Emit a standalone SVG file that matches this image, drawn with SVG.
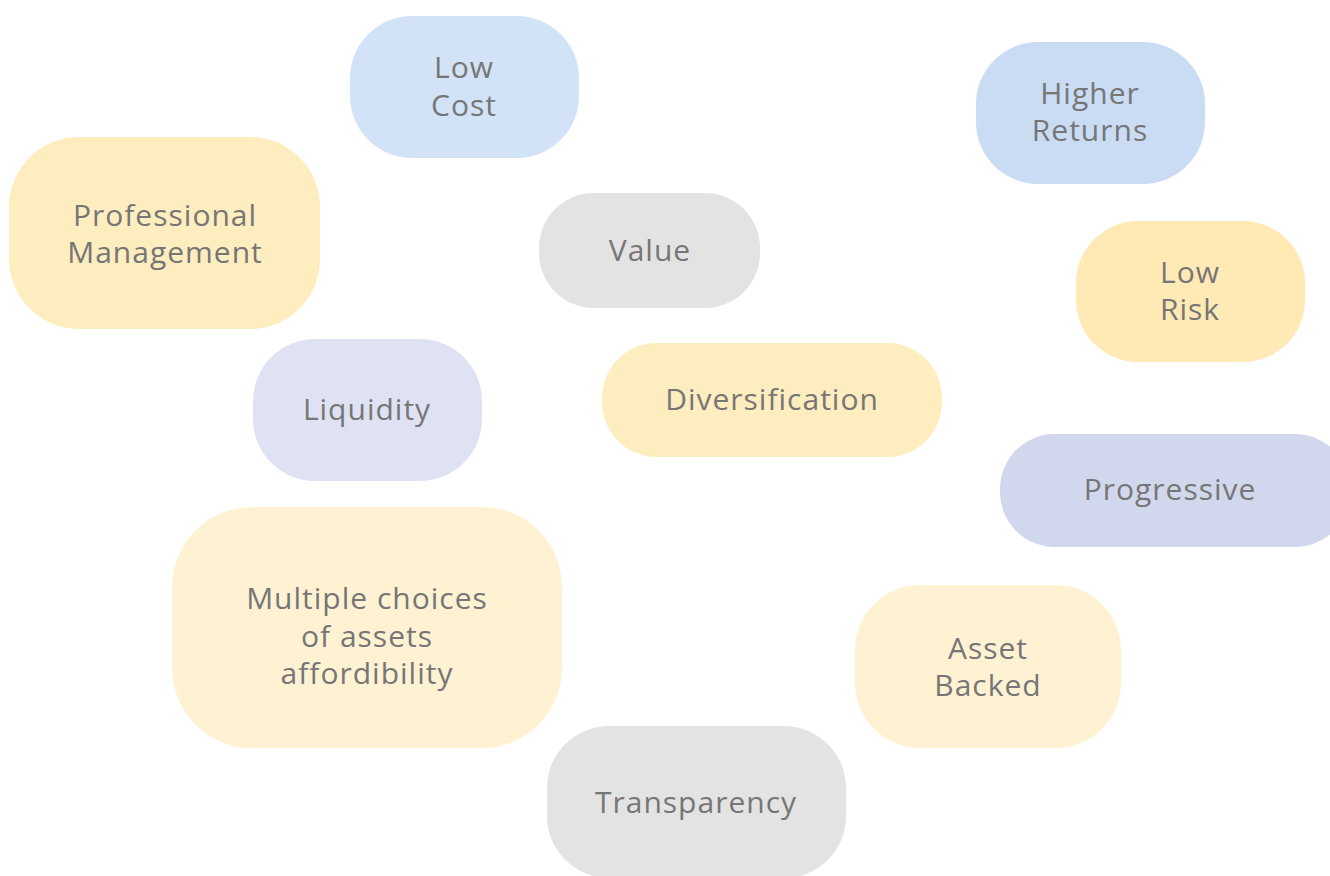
<svg xmlns="http://www.w3.org/2000/svg" width="1330" height="876" viewBox="0 0 1330 876">
<style>
text{font-family:"Open Sans","Noto Sans",sans-serif;font-size:30px;letter-spacing:1px;fill:#767676;text-anchor:middle}
.blue{fill:#D2E3F7}.blue2{fill:#C9DCF4}.yel{fill:#FEEDBF}.yel2{fill:#FFE9B4}.cream{fill:#FFF2D3}.gray{fill:#E3E3E3}.lav{fill:#DEE2F3}.lav2{fill:#D1D7EC}
</style>
<rect width="1330" height="876" fill="#FFFFFF"/>
<g id="connectors"/>
<g id="low-cost"><rect class="blue" x="350" y="16" width="229" height="142" rx="62"/><text x="464" y="78">Low</text><text x="464" y="116">Cost</text></g>
<g id="higher-returns"><rect class="blue2" x="976" y="42" width="229" height="142" rx="62"/><text x="1090" y="104">Higher</text><text x="1090" y="141">Returns</text></g>
<g id="professional-management"><rect class="yel" x="9" y="137" width="311" height="192" rx="70"/><text x="165" y="226">Professional</text><text x="165" y="263">Management</text></g>
<g id="value"><rect class="gray" x="539" y="193" width="221" height="115" rx="55"/><text x="650" y="261">Value</text></g>
<g id="low-risk"><rect class="yel2" x="1076" y="221" width="229" height="141" rx="62"/><text x="1190" y="283">Low</text><text x="1190" y="320">Risk</text></g>
<g id="liquidity"><rect class="lav" x="253" y="339" width="229" height="142" rx="62"/><text x="367" y="420">Liquidity</text></g>
<g id="diversification"><rect class="yel" x="602" y="343" width="340" height="114" rx="55"/><text x="772" y="410">Diversification</text></g>
<g id="progressive"><rect class="lav2" x="1000" y="434" width="350" height="113" rx="55"/><text x="1170" y="500">Progressive</text></g>
<g id="multiple-choices"><rect class="cream" x="172" y="507" width="390" height="241" rx="80"/><text x="367" y="609">Multiple choices</text><text x="367" y="647">of assets</text><text x="367" y="684">affordibility</text></g>
<g id="asset-backed"><rect class="cream" x="855" y="585" width="266" height="163" rx="65"/><text x="988" y="659">Asset</text><text x="988" y="696">Backed</text></g>
<g id="transparency"><rect class="gray" x="547" y="726" width="299" height="152" rx="62"/><text x="696" y="813">Transparency</text></g>
</svg>
